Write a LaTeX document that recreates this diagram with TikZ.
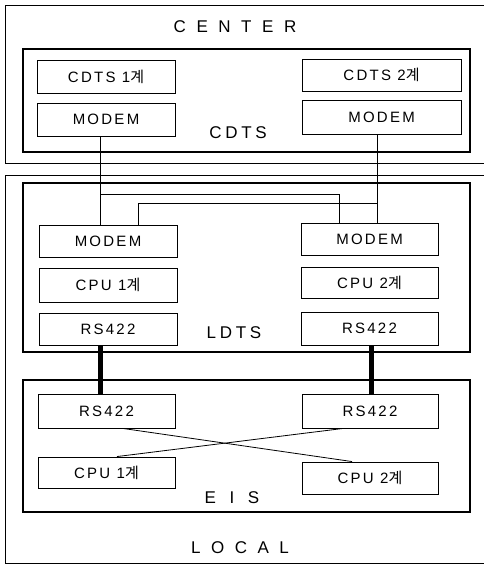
\documentclass[tikz,border=0pt]{standalone}
\usepackage{fontspec}
\setmainfont{Liberation Sans}
\newfontfamily\krfont{Noto Sans CJK KR}
\newfontfamily\spfont[LetterSpace=15]{Liberation Sans}
\newfontfamily\midfont[LetterSpace=22]{Liberation Sans}
\newfontfamily\widefont[LetterSpace=62]{Liberation Sans}
\newfontfamily\eisfont[LetterSpace=80]{Liberation Sans}
\begin{document}
\begin{tikzpicture}[x=1pt,y=-1pt,
  unit/.style={draw,line width=0.9pt,inner sep=0pt,font=\fontsize{15}{15}\spfont},
  group/.style={draw,line width=2pt},
  outer/.style={draw,line width=0.9pt},
  title/.style={inner sep=0pt,font=\fontsize{17}{17}\widefont},
  etitle/.style={inner sep=0pt,font=\fontsize{17}{17}\eisfont},
  gtitle/.style={inner sep=0pt,font=\fontsize{17}{17}\midfont},
  wire/.style={line width=0.8pt},
  bus/.style={line width=5pt}]
\clip (0,0) rectangle (484,565);
\fill[white] (0,0) rectangle (484,565);
% outer regions
\draw[outer] (5,5) rectangle (500,163);
\draw[outer] (5,175) rectangle (500,563);
% group boxes
\draw[group] (23,49) rectangle (470,152);
\draw[group] (23,183) rectangle (470,352);
\draw[group] (23,380) rectangle (470,512);
% titles
\node[title] (center) at (235,27) {CENTER};
\node[gtitle] (cdts) at (238,133) {CDTS};
\node[gtitle] (ldts) at (234,333) {LDTS};
\node[etitle] (eis) at (232,498) {EIS};
\node[title] (local) at (240,548) {LOCAL};
% CENTER units
\node[unit,minimum width=138pt,minimum height=33pt] (cdts1) at (106,76.5) {CDTS 1{\krfont 계}};
\node[unit,minimum width=138pt,minimum height=33pt] (mc1) at (106,119.5) {MODEM};
\node[unit,minimum width=159pt,minimum height=32pt] (cdts2) at (381.5,75) {CDTS 2{\krfont 계}};
\node[unit,minimum width=159pt,minimum height=34pt] (mc2) at (381.5,117) {MODEM};
% LDTS units
\node[unit,minimum width=138pt,minimum height=32pt] (ml1) at (108,241) {MODEM};
\node[unit,minimum width=138pt,minimum height=34pt] (cl1) at (108,285) {CPU 1{\krfont 계}};
\node[unit,minimum width=138pt,minimum height=32pt] (rl1) at (108,329) {RS422};
\node[unit,minimum width=137pt,minimum height=32pt] (ml2) at (369.5,239) {MODEM};
\node[unit,minimum width=137pt,minimum height=31pt] (cl2) at (369.5,282.5) {CPU 2{\krfont 계}};
\node[unit,minimum width=137pt,minimum height=33pt] (rl2) at (369.5,328.5) {RS422};
% EIS units
\node[unit,minimum width=137pt,minimum height=34pt] (re1) at (106.5,411) {RS422};
\node[unit,minimum width=136pt,minimum height=34pt] (re2) at (370,411) {RS422};
\node[unit,minimum width=137pt,minimum height=31pt] (ce1) at (106.5,472.5) {CPU 1{\krfont 계}};
\node[unit,minimum width=136pt,minimum height=32pt] (ce2) at (370,478) {CPU 2{\krfont 계}};
% wiring coordinates
\coordinate (xa) at (100,194);
\coordinate (xb) at (339,194);
\coordinate (xc) at (377,203);
\coordinate (xd) at (138,203);
\coordinate (xe) at (371,0);
\coordinate (xf) at (123,0);
\coordinate (xg) at (352,0);
\coordinate (xh) at (343,0);
\coordinate (xi) at (117,0);
% modem links
\draw[wire] (mc1.south -| xa) -- (ml1.north -| xa);
\draw[wire] (xa) -- (xb) -- (ml2.north -| xb);
\draw[wire] (mc2.south -| xc) -- (ml2.north -| xc);
\draw[wire] (xc) -- (xd) -- (ml1.north -| xd);
% RS422 buses
\draw[bus] (rl1.south -| xa) -- (re1.north -| xa);
\draw[bus] (rl2.south -| xe) -- (re2.north -| xe);
% cross links
\draw[wire] (re1.south -| xf) -- (ce2.north -| xg);
\draw[wire] (re2.south -| xh) -- (ce1.north -| xi);
\end{tikzpicture}
\end{document}
